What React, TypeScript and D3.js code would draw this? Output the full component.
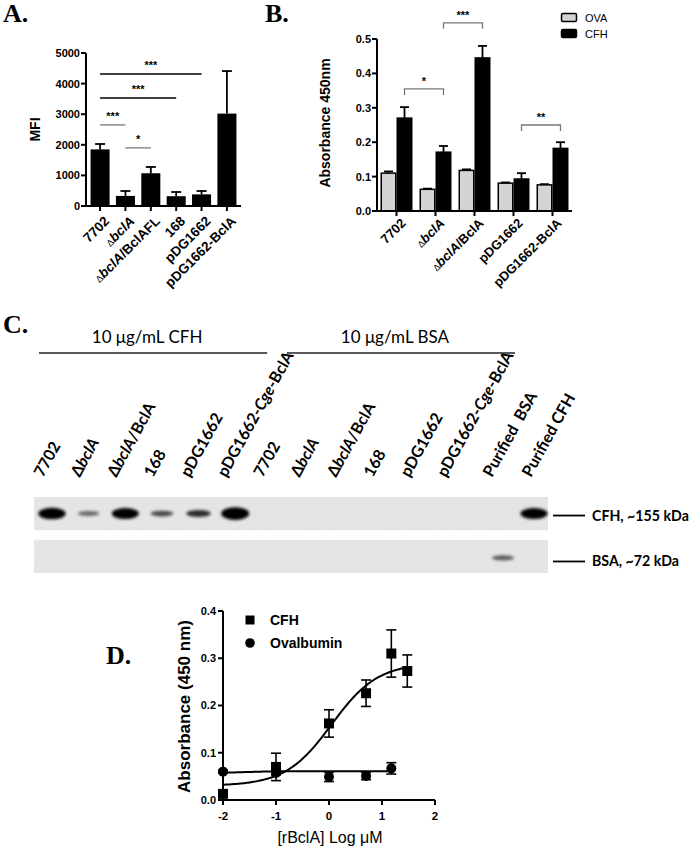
import * as d3 from "d3";

const SANS = "'Liberation Sans', Arial, sans-serif";
const SERIF = "'Liberation Serif', 'Times New Roman', serif";
const CAL = "Lato, 'Open Sans', sans-serif";

// ---- Panel A: MFI per strain
const A_STRAINS = ["7702", "ΔbclA", "ΔbclA/BclAFL", "168", "pDG1662", "pDG1662-BclA"];
const A_MFI = [1850, 330, 1070, 320, 380, 3020];
const A_ERR = [176, 160, 205, 137, 110, 1390];
const A_TICKS = [0, 1000, 2000, 3000, 4000, 5000];
const A_SIG = [
  { from: "7702", to: "pDG1662", level: 4310, label: "***", gray: false },
  { from: "7702", to: "168", level: 3530, label: "***", gray: false },
  { from: "7702", to: "ΔbclA", level: 2650, label: "***", gray: true },
  { from: "ΔbclA", to: "ΔbclA/BclAFL", level: 1900, label: "*", gray: true },
];

// ---- Panel B: absorbance, OVA vs CFH
const B_STRAINS = ["7702", "ΔbclA", "ΔbclA/BclA", "pDG1662", "pDG1662-BclA"];
const B_SERIES = ["OVA", "CFH"];
const B_OVA = [0.11, 0.063, 0.118, 0.081, 0.076];
const B_OVA_ERR = [0.005, 0.002, 0.003, 0.002, 0.002];
const B_CFH = [0.27, 0.171, 0.445, 0.093, 0.182];
const B_CFH_ERR = [0.032, 0.018, 0.035, 0.017, 0.018];
const B_TICKS = [0, 0.1, 0.2, 0.3, 0.4, 0.5];
const B_SIG = [
  { from: "7702", to: "ΔbclA", level: 0.355, label: "*" },
  { from: "ΔbclA", to: "ΔbclA/BclA", level: 0.547, label: "***" },
  { from: "pDG1662", to: "pDG1662-BclA", level: 0.25, label: "**" },
];

// ---- Panel C: western blot lanes
const C_SAMPLE_LANES = [
  "7702", "ΔbclA", "ΔbclA/BclA", "168", "pDG1662", "pDG1662-Cge-BclA",
  "7702 ", "ΔbclA ", "ΔbclA/BclA ", "168 ", "pDG1662 ", "pDG1662-Cge-BclA ",
];
const C_CONTROL_LANES = ["Purified  BSA", "Purified CFH"];
const C_CFH_BAND = [0.95, 0.35, 0.92, 0.5, 0.65, 1, 0, 0, 0, 0, 0, 0, 0, 0.92];
const C_BSA_BAND = [0, 0, 0, 0, 0, 0, 0, 0, 0, 0, 0, 0, 0.4, 0];
const C_ROWS = ["CFH, ~155 kDa", "BSA, ~72 kDa"];
const C_GROUPS = [
  { label: "10 μg/mL CFH", first: 0, last: 5 },
  { label: "10 μg/mL BSA", first: 6, last: 11 },
];

// ---- Panel D: dose response
const D_CFH_X = [-2, -1, 0, 0.699, 1.176, 1.477];
const D_CFH_Y = [0.013, 0.07, 0.162, 0.226, 0.31, 0.273];
const D_CFH_ERR = [0.004, 0.029, 0.029, 0.028, 0.05, 0.034];
const D_OVA_X = [-2, -1, 0, 0.699, 1.176];
const D_OVA_Y = [0.06, 0.057, 0.049, 0.051, 0.067];
const D_OVA_ERR = [0.003, 0.004, 0.01, 0.008, 0.012];
const D_CFH_FIT = { bottom: 0.03, top: 0.29, logEC50: 0.05, hill: 1 };
const D_OVA_FIT = { bottom: 0.057, top: 0.061, logEC50: -1.6, hill: 1.5 };
const D_XTICKS = [-2, -1, 0, 1, 2];
const D_YTICKS = [0, 0.1, 0.2, 0.3, 0.4];

function StrainText({ text, smallDelta }: { text: string; smallDelta?: boolean }) {
  const parts = text.trim().split(/(Δ|bclA|Cge)/).filter(Boolean);
  return (
    <>
      {parts.map((p, i) => {
        if (p === "Δ")
          return (
            <tspan key={i} fontSize={smallDelta ? "0.7em" : undefined} fontWeight={smallDelta ? "normal" : undefined}>
              Δ
            </tspan>
          );
        if (p === "bclA" || p === "Cge")
          return (
            <tspan key={i} fontStyle="italic">
              {p}
            </tspan>
          );
        return <tspan key={i}>{p}</tspan>;
      })}
    </>
  );
}

function PanelA() {
  const x = d3.scaleBand<string>().domain(A_STRAINS).range([86, 241]).paddingInner(0.25).paddingOuter(0.18);
  const y = d3.scaleLinear().domain([0, 5000]).range([206, 53]);
  const bw = x.bandwidth();
  const cx = (s: string) => (x(s) ?? 0) + bw / 2;
  return (
    <g fontFamily={SANS}>
      <text x={3} y={22} fontFamily={SERIF} fontWeight="bold" fontSize={26}>
        A.
      </text>
      <text
        transform={`translate(40,${(y(0) + y(5000)) / 2}) rotate(-90)`}
        textAnchor="middle"
        fontWeight="bold"
        fontSize={14}
      >
        MFI
      </text>
      {A_STRAINS.map((s, i) => {
        const v = A_MFI[i];
        const c = cx(s);
        return (
          <g key={s}>
            <line x1={c} x2={c} y1={y(v)} y2={y(v + A_ERR[i])} stroke="#000" strokeWidth={1.8} />
            <line x1={c - 5} x2={c + 5} y1={y(v + A_ERR[i])} y2={y(v + A_ERR[i])} stroke="#000" strokeWidth={1.8} />
            <rect x={x(s)} y={y(v)} width={bw} height={y(0) - y(v)} fill="#000" />
          </g>
        );
      })}
      <line x1={86} x2={86} y1={y(0) + 1} y2={y(5000)} stroke="#000" strokeWidth={2} />
      {A_TICKS.map((t) => (
        <g key={t}>
          <line x1={81} x2={86} y1={y(t)} y2={y(t)} stroke="#000" strokeWidth={2} />
          <text x={80} y={y(t)} dy="0.36em" textAnchor="end" fontSize={11} fontWeight="bold">
            {t}
          </text>
        </g>
      ))}
      <line x1={85} x2={241} y1={y(0)} y2={y(0)} stroke="#000" strokeWidth={2} />
      {A_STRAINS.map((s) => (
        <g key={s}>
          <line x1={cx(s)} x2={cx(s)} y1={y(0)} y2={y(0) + 5} stroke="#000" strokeWidth={2} />
          <text
            transform={`translate(${cx(s) + 10},${y(0) + 16}) rotate(-45)`}
            textAnchor="end"
            fontSize={13.5}
            fontWeight="bold"
          >
            <StrainText text={s} smallDelta />
          </text>
        </g>
      ))}
      {A_SIG.map((d) => {
        const x1 = cx(d.from);
        const x2 = cx(d.to);
        return (
          <g key={d.from + d.to}>
            <line x1={x1} x2={x2} y1={y(d.level)} y2={y(d.level)} stroke={d.gray ? "#8a8a8a" : "#000"} strokeWidth={1.5} />
            <text x={(x1 + x2) / 2} y={y(d.level) - 5} textAnchor="middle" fontSize={11} fontWeight="bold">
              {d.label}
            </text>
          </g>
        );
      })}
    </g>
  );
}

function PanelB() {
  const x = d3.scaleBand<string>().domain(B_STRAINS).range([377, 572]).paddingInner(0.18).paddingOuter(0.09);
  const xs = d3.scaleBand<string>().domain(B_SERIES).range([0, x.bandwidth()]);
  const y = d3.scaleLinear().domain([0, 0.5]).range([211, 39]);
  const cx = (s: string) => (x(s) ?? 0) + x.bandwidth() / 2;
  const cfhX = (s: string) => (x(s) ?? 0) + (xs("CFH") ?? 0) + xs.bandwidth() / 2;
  const series = [
    { key: "OVA", vals: B_OVA, errs: B_OVA_ERR, fill: "#d4d4d4" },
    { key: "CFH", vals: B_CFH, errs: B_CFH_ERR, fill: "#000" },
  ];
  return (
    <g fontFamily={SANS}>
      <text x={265} y={22} fontFamily={SERIF} fontWeight="bold" fontSize={26}>
        B.
      </text>
      <text
        transform={`translate(330,${(y(0) + y(0.5)) / 2 - 2}) rotate(-90)`}
        textAnchor="middle"
        fontWeight="bold"
        fontSize={14}
      >
        Absorbance 450nm
      </text>
      {B_STRAINS.map((s, i) =>
        series.map((sr) => {
          const v = sr.vals[i];
          const bx = (x(s) ?? 0) + (xs(sr.key) ?? 0);
          const c = bx + xs.bandwidth() / 2;
          const top = y(v + sr.errs[i]);
          return (
            <g key={s + sr.key}>
              <line x1={c} x2={c} y1={y(v)} y2={top} stroke="#000" strokeWidth={1.8} />
              <line x1={c - 4.5} x2={c + 4.5} y1={top} y2={top} stroke="#000" strokeWidth={1.8} />
              <rect
                x={bx + 0.75}
                y={y(v)}
                width={xs.bandwidth() - 1.5}
                height={y(0) - y(v)}
                fill={sr.fill}
                stroke="#000"
                strokeWidth={1.5}
              />
            </g>
          );
        })
      )}
      <line x1={377} x2={377} y1={y(0) + 1} y2={y(0.5)} stroke="#000" strokeWidth={2} />
      {B_TICKS.map((t) => (
        <g key={t}>
          <line x1={372} x2={377} y1={y(t)} y2={y(t)} stroke="#000" strokeWidth={2} />
          <text x={371} y={y(t)} dy="0.36em" textAnchor="end" fontSize={11} fontWeight="bold">
            {d3.format(".1f")(t)}
          </text>
        </g>
      ))}
      <line x1={376} x2={572} y1={y(0)} y2={y(0)} stroke="#000" strokeWidth={2} />
      {B_STRAINS.map((s) => (
        <g key={s}>
          <line x1={cx(s)} x2={cx(s)} y1={y(0)} y2={y(0) + 5} stroke="#000" strokeWidth={2} />
          <text
            transform={`translate(${cx(s) + 10},${y(0) + 13}) rotate(-45)`}
            textAnchor="end"
            fontSize={13}
            fontWeight="bold"
          >
            <StrainText text={s} smallDelta />
          </text>
        </g>
      ))}
      {B_SIG.map((d) => {
        const x1 = cfhX(d.from);
        const x2 = cfhX(d.to);
        const yy = y(d.level);
        return (
          <g key={d.label}>
            <path
              d={`M${x1},${yy + 6}V${yy}H${x2}V${yy + 6}`}
              fill="none"
              stroke="#777"
              strokeWidth={1.3}
            />
            <text x={(x1 + x2) / 2} y={yy - 4} textAnchor="middle" fontSize={11} fontWeight="bold">
              {d.label}
            </text>
          </g>
        );
      })}
      {series.map((sr, i) => (
        <g key={sr.key} transform={`translate(561,${13 + i * 16})`}>
          <rect x={0.5} y={0.5} width={15} height={8} rx={1.5} fill={sr.fill} stroke="#000" strokeWidth={1.5} />
          <text x={24} y={8.5} fontSize={11}>
            {sr.key}
          </text>
        </g>
      ))}
    </g>
  );
}

function PanelC() {
  const sampleX = d3.scalePoint<string>().domain(C_SAMPLE_LANES).range([52, 455]);
  const controlX = d3.scalePoint<string>().domain(C_CONTROL_LANES).range([503, 534]);
  const lanes = [
    ...C_SAMPLE_LANES.map((l) => ({ label: l, x: sampleX(l) ?? 0 })),
    ...C_CONTROL_LANES.map((l) => ({ label: l, x: controlX(l) ?? 0 })),
  ];
  const rows = d3.scaleBand<string>().domain(C_ROWS).range([497, 573]).paddingInner(0.23);
  const rowBands = [C_CFH_BAND, C_BSA_BAND];
  return (
    <g>
      <defs>
        <filter id="bandBlur" x="-50%" y="-100%" width="200%" height="300%">
          <feGaussianBlur stdDeviation="1.8" />
        </filter>
        <filter id="grain" x="0" y="0" width="100%" height="100%">
          <feTurbulence type="fractalNoise" baseFrequency="0.7" numOctaves="2" seed="4" result="n" />
          <feColorMatrix
            in="n"
            type="matrix"
            values="0 0 0 0 0.55  0 0 0 0 0.55  0 0 0 0 0.55  0 0 0 0.35 -0.05"
          />
        </filter>
      </defs>
      <text x={3} y={333} fontFamily={SERIF} fontWeight="bold" fontSize={26}>
        C.
      </text>
      {C_GROUPS.map((g, gi) => {
        const x1 = lanes[g.first].x - 13 + gi * 28;
        const x2 = lanes[g.last].x + 32 + gi * 28;
        return (
          <g key={g.label}>
            <line x1={x1} x2={x2} y1={353} y2={353} stroke="#222" strokeWidth={1.5} />
            <text x={(x1 + x2) / 2 - 6} y={343} textAnchor="middle" fontFamily={CAL} fontSize={17}>
              {g.label}
            </text>
          </g>
        );
      })}
      {lanes.map((l, i) => (
        <text
          key={i}
          transform={`translate(${l.x - 9 + (i >= 12 ? (i - 12) * 8 - 2 : 0)},478) rotate(-61)`}
          fontFamily={CAL}
          fontWeight="bold"
          fontSize={16}
          style={{ whiteSpace: "pre" }}
        >
          <StrainText text={l.label} />
        </text>
      ))}
      {C_ROWS.map((r, ri) => {
        const y0 = rows(r) ?? 0;
        const h = rows.bandwidth();
        const by = y0 + h / 2 + (ri === 0 ? 0 : 1.5);
        return (
          <g key={r}>
            <rect x={34} y={y0} width={514} height={h} fill="#e7e7e7" />
            <rect x={34} y={y0} width={514} height={h} filter="url(#grain)" opacity={0.5} />
            {rowBands[ri].map((v, li) =>
              v > 0 ? (
                <ellipse
                  key={li}
                  cx={lanes[li].x}
                  cy={by}
                  rx={9 + 5 * v}
                  ry={2.4 + 4 * v * v * v}
                  fill="#000"
                  opacity={Math.min(1, 0.25 + 0.85 * v)}
                  filter="url(#bandBlur)"
                />
              ) : null
            )}
            <line x1={553} x2={585} y1={y0 + h / 2 + 2 + ri * 3} y2={y0 + h / 2 + 2 + ri * 3} stroke="#000" strokeWidth={1.8} />
            <text x={592} y={y0 + h / 2 + 7 + ri * 3} fontFamily={CAL} fontWeight="bold" fontSize={14.2}>
              {r}
            </text>
          </g>
        );
      })}
    </g>
  );
}

function fourPL(p: { bottom: number; top: number; logEC50: number; hill: number }, xv: number) {
  return p.bottom + (p.top - p.bottom) / (1 + Math.pow(10, p.hill * (p.logEC50 - xv)));
}

function PanelD() {
  const x = d3.scaleLinear().domain([-2, 2]).range([223, 435]);
  const y = d3.scaleLinear().domain([0, 0.4]).range([800, 611]);
  const cfhCurve = d3.range(-2, 1.477 + 1e-9, 0.025);
  const ovaCurve = d3.range(-2, 1.176 + 1e-9, 0.025);
  const cfhPath = d3
    .line<number>()
    .x((d) => x(d))
    .y((d) => y(fourPL(D_CFH_FIT, d)))(cfhCurve);
  const ovaPath = d3
    .line<number>()
    .x((d) => x(d))
    .y((d) => y(fourPL(D_OVA_FIT, d)))(ovaCurve);
  const errBar = (xv: number, yv: number, e: number, k: string) => (
    <g key={k} stroke="#000" strokeWidth={1.6}>
      <line x1={x(xv)} x2={x(xv)} y1={y(yv - e)} y2={y(yv + e)} />
      <line x1={x(xv) - 5} x2={x(xv) + 5} y1={y(yv + e)} y2={y(yv + e)} />
      <line x1={x(xv) - 5} x2={x(xv) + 5} y1={y(yv - e)} y2={y(yv - e)} />
    </g>
  );
  return (
    <g fontFamily={SANS}>
      <text x={106} y={664} fontFamily={SERIF} fontWeight="bold" fontSize={26}>
        D.
      </text>
      <text
        transform={`translate(190,${(y(0) + y(0.4)) / 2 + 1}) rotate(-90)`}
        textAnchor="middle"
        fontWeight="bold"
        fontSize={17}
      >
        Absorbance (450 nm)
      </text>
      <text x={(x(-2) + x(2)) / 2 + 1} y={843} textAnchor="middle" fontSize={16}>
        [rBclA] Log μM
      </text>
      <path d={cfhPath ?? ""} fill="none" stroke="#000" strokeWidth={2} />
      <path d={ovaPath ?? ""} fill="none" stroke="#000" strokeWidth={2} />
      {D_CFH_X.map((xv, i) => errBar(xv, D_CFH_Y[i], D_CFH_ERR[i], "ce" + i))}
      {D_OVA_X.map((xv, i) => errBar(xv, D_OVA_Y[i], D_OVA_ERR[i], "oe" + i))}
      {D_OVA_X.map((xv, i) => (
        <circle key={"o" + i} cx={x(xv)} cy={y(D_OVA_Y[i])} r={5} fill="#000" />
      ))}
      {D_CFH_X.map((xv, i) => (
        <rect key={"c" + i} x={x(xv) - 5} y={y(D_CFH_Y[i]) - 5} width={10} height={10} fill="#000" />
      ))}
      <line x1={x(-2)} x2={x(-2)} y1={y(0) + 1} y2={y(0.4)} stroke="#000" strokeWidth={2} />
      {D_YTICKS.map((t) => (
        <g key={t}>
          <line x1={x(-2) - 5} x2={x(-2)} y1={y(t)} y2={y(t)} stroke="#000" strokeWidth={2} />
          <text x={x(-2) - 7} y={y(t)} dy="0.36em" textAnchor="end" fontSize={11} fontWeight="bold">
            {d3.format(".1f")(t)}
          </text>
        </g>
      ))}
      <line x1={x(-2) - 1} x2={x(2)} y1={y(0)} y2={y(0)} stroke="#000" strokeWidth={2} />
      {D_XTICKS.map((t) => (
        <g key={t}>
          <line x1={x(t)} x2={x(t)} y1={y(0)} y2={y(0) + 5} stroke="#000" strokeWidth={2} />
          <text x={x(t)} y={y(0) + 20} textAnchor="middle" fontSize={11.5} fontWeight="bold">
            {String(t)}
          </text>
        </g>
      ))}
      <rect x={245.5} y={615.5} width={9} height={9} fill="#000" />
      <text x={270} y={625} fontSize={14} fontWeight="bold">
        CFH
      </text>
      <circle cx={250} cy={643} r={4.8} fill="#000" />
      <text x={270} y={648} fontSize={14} fontWeight="bold">
        Ovalbumin
      </text>
    </g>
  );
}

export default function App() {
  return (
    <div style={{ position: "absolute", left: 0, top: 0 }}>
      <svg width={693} height={849} style={{ display: "block", background: "#fff" }}>
        <PanelA />
        <PanelB />
        <PanelC />
        <PanelD />
      </svg>
    </div>
  );
}
